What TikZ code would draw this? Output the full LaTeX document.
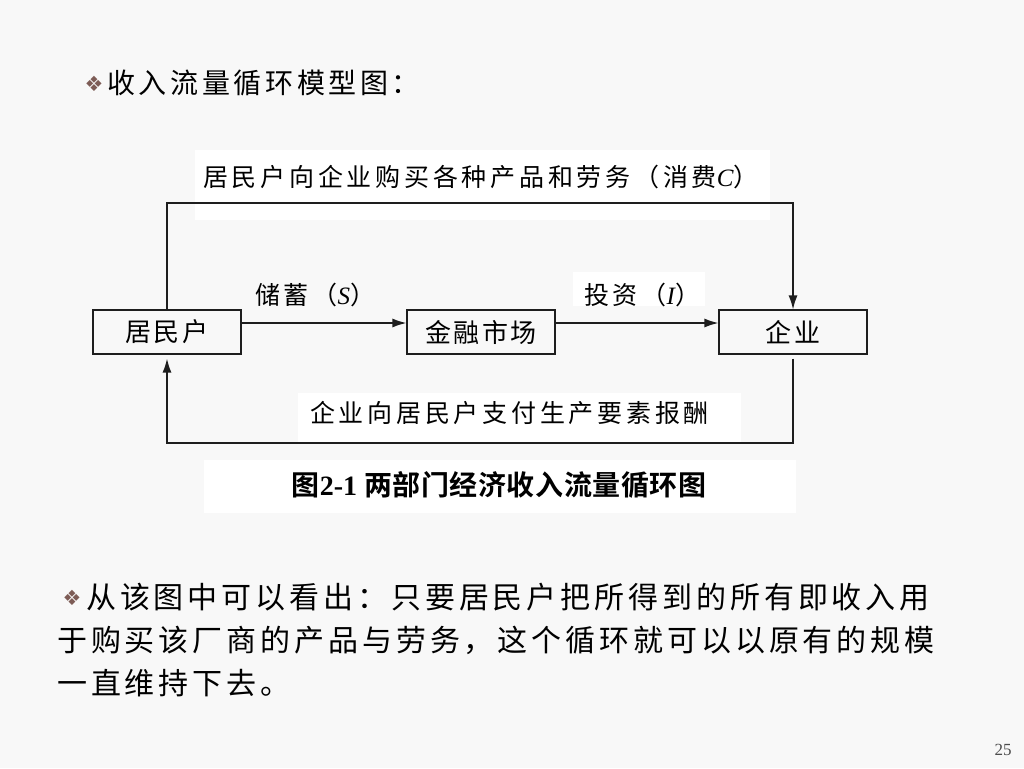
\documentclass[tikz,border=0pt]{standalone}
\usepackage{fontspec}
\usepackage{tikz}
\usetikzlibrary{arrows.meta, positioning, calc}
\setmainfont{Noto Sans CJK SC}
\newfontfamily\tmfont{Liberation Serif}
\newfontfamily\symfont{DejaVu Sans}
\newfontfamily\cjktitle[LetterSpace=13]{Noto Sans CJK SC}
\newfontfamily\cjklabel[LetterSpace=15]{Noto Sans CJK SC}
\newfontfamily\cjkbox[LetterSpace=9]{Noto Sans CJK SC}
\newfontfamily\cjkbold[LetterSpace=2]{Noto Sans CJK SC Bold}
\definecolor{pagebg}{RGB}{248,248,248}
\definecolor{bulletbrown}{RGB}{125,92,86}
\definecolor{linegray}{RGB}{30,30,30}
\newcommand{\bul}{{\symfont\color{bulletbrown}\fontsize{21}{21}\selectfont\char"2756}}

\begin{document}
\begin{tikzpicture}[x=1pt, y=-1pt,
    box/.style={draw=linegray, line width=1.2pt, minimum width=148pt, minimum height=44pt,
        inner sep=0pt, font=\cjkbox\fontsize{26}{28}\selectfont},
    flow/.style={draw=linegray, line width=1.3pt, -{Latex[length=14pt,width=9pt]}},
    patch/.style={fill=white, draw=none},
    lbl/.style={inner sep=0pt, anchor=west, font=\cjklabel\fontsize{25}{28}\selectfont}]
\useasboundingbox (0,0) rectangle (1024,768);
\fill[pagebg] (0,0) rectangle (1024,768);

% Title
\node[inner sep=0pt] (bt) at (94,84) {\bul};
\node[inner sep=0pt, anchor=west, font=\cjktitle\fontsize{28}{30}\selectfont] (title) at (107,83) {收入流量循环模型图：};

% White patches of the figure
\fill[patch] (195,150) rectangle (770,220);
\fill[patch] (573,272) rectangle (705,306);
\fill[patch] (298,393) rectangle (741,442);
\fill[patch] (204,460) rectangle (796,513);

% Boxes
\node[box] (hh) at (167,332) {居民户};
\node[box] (fm) at (481,332) {金融市场};
\node[box] (firm) at (793,332) {企业};

% Flows through the market
\draw[flow] ([yshift=9pt]hh.east) -- ([yshift=9pt]fm.west);
\draw[flow] ([yshift=9pt]fm.east) -- ([yshift=9pt]firm.west);
\node[lbl] (sav) at (255,295) {储蓄（\tmfont\itshape S\cjklabel）};
\node[lbl] (inv) at (584,295) {投资（\tmfont\itshape I\cjklabel）};

% Consumption loop
\coordinate (ctop) at (480,203);
\draw[flow] (hh.north) |- (ctop) -| (firm.north);
\node[lbl] (cons) at (203,177) {居民户向企业购买各种产品和劳务（消费\tmfont\itshape C\cjklabel）};

% Factor payments loop
\coordinate (cbot) at (480,443);
\draw[flow, shorten >=4pt, shorten <=4pt] (firm.south) |- (cbot) -| (hh.south);
\node[lbl] (pay) at (310,413) {企业向居民户支付生产要素报酬};

% Caption
\node[inner sep=0pt, font=\cjkbold\fontsize{28}{30}\selectfont] (cap) at (499,485) {图{\tmfont\bfseries 2-1 }两部门经济收入流量循环图};

% Remark
\node[inner sep=0pt] (br) at (72,598) {\bul};
\node[inner sep=0pt, anchor=west, font=\cjktitle\fontsize{30}{34}\selectfont] (r1) at (86,597) {从该图中可以看出：只要居民户把所得到的所有即收入用};
\node[inner sep=0pt, anchor=west, font=\cjktitle\fontsize{30}{34}\selectfont] (r2) at (57,640) {于购买该厂商的产品与劳务，这个循环就可以以原有的规模};
\node[inner sep=0pt, anchor=west, font=\cjktitle\fontsize{30}{34}\selectfont] (r3) at (57,683) {一直维持下去。};

% Page number
\node[inner sep=0pt, font=\tmfont\fontsize{17}{17}\selectfont, text=black!70] (pg) at (1003,750) {25};
\end{tikzpicture}
\end{document}
